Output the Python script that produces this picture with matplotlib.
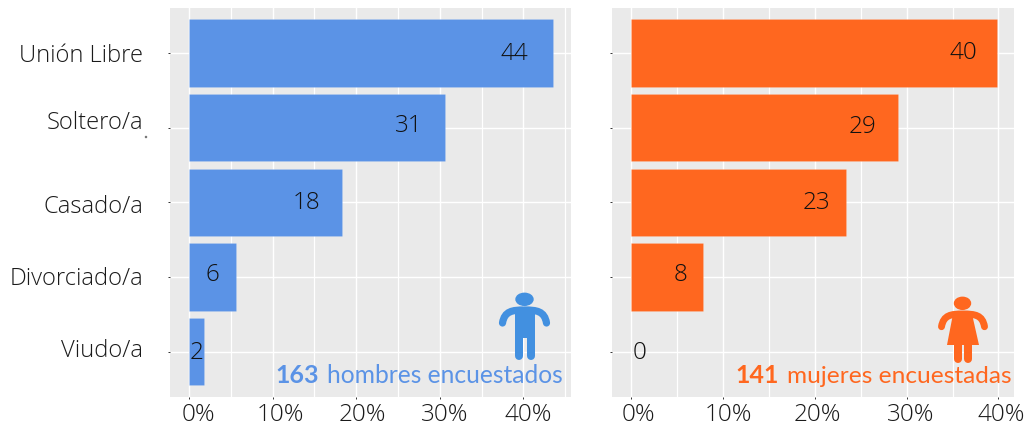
import matplotlib.pyplot as plt
from matplotlib.patches import Ellipse, Rectangle, Polygon, PathPatch
from matplotlib.path import Path
from matplotlib.transforms import Affine2D, ScaledTranslation

categories = ['Unión Libre', 'Soltero/a', 'Casado/a', 'Divorciado/a', 'Viudo/a']
men_pct = [43.5, 30.6, 18.3, 5.6, 1.8]
men_counts = [44, 31, 18, 6, 2]
women_pct = [39.8, 29.1, 23.4, 7.8, 0]
women_counts = [40, 29, 23, 8, 0]
tick_vals = [0, 10, 20, 30, 40]
tick_labels = ['0%', '10%', '20%', '30%', '40%']

W, H = 1027, 426
BLUE = '#5B93E6'
ORANGE = '#FF671F'
ICON_BLUE = '#4290E0'
PANEL = '#EAEAEA'
TEXT = '#1A1A1A'
FONT = 'Open Sans'
NOTE_FONT = 'Lato'
SIZE = 17.5

PIX = Affine2D().scale(1, -1).translate(0, H)


def to_axes_box(x0, x1, y0, y1):
    return [x0 / W, 1 - y1 / H, (x1 - x0) / W, (y1 - y0) / H]


def shift(fig, dx, dy):
    # dx, dy in pixels, y down
    return ScaledTranslation(dx / fig.dpi, -dy / fig.dpi, fig.dpi_scale_trans)


def draw_panel(fig, ax, pct, counts, color, xlim, minor, xlabel_dx, value_shifts):
    ax.set_facecolor(PANEL)
    for s in ax.spines.values():
        s.set_visible(False)
    ypos = list(range(len(pct)))
    ax.barh(ypos, pct, height=0.9, color=color, ec=(1, 1, 1, 0.15), lw=0.5, zorder=3)
    ax.set_xticks(tick_vals)
    ax.set_xticklabels(tick_labels, fontsize=SIZE, color=TEXT, family=FONT, fontweight='light')
    ax.set_xticks(minor, minor=True)
    ax.set_xlim(*xlim)
    ax.set_ylim(4.607, -0.603)
    ax.set_yticks(ypos)
    ax.set_yticklabels([])
    ax.tick_params(axis='x', which='major', length=1.5, width=0.7, color='#333333', pad=3)
    ax.tick_params(axis='x', which='minor', length=0)
    ax.tick_params(axis='y', length=1.5, width=0.7, color='#333333')
    ax.grid(True, which='major', color='white', lw=1.0, zorder=1)
    ax.grid(True, which='minor', axis='x', color='white', lw=0.9, zorder=1)
    ax.set_axisbelow(True)
    for lab, dx in zip(ax.get_xticklabels(), xlabel_dx):
        lab.set_transform(lab.get_transform() + shift(fig, dx, 0))
    for y, p, c, (dx, dy) in zip(ypos, pct, counts, value_shifts):
        ax.annotate(str(c), xy=(p, y), xytext=(dx * 0.72, -dy * 0.72), textcoords='offset points',
                    ha='center', va='center', fontsize=SIZE, color='#111111',
                    family=FONT, fontweight='light', zorder=4)


def arms(fig, cx, y_end, y_top, half, color, lw):
    pts = [(cx - half, y_end), (cx - half + 2, y_top + 1), (cx - 12, y_top), (cx, y_top),
           (cx + 12, y_top), (cx + half - 2, y_top + 1), (cx + half, y_end)]
    codes = [Path.MOVETO, Path.CURVE4, Path.CURVE4, Path.CURVE4, Path.CURVE4, Path.CURVE4, Path.CURVE4]
    fig.add_artist(PathPatch(Path(pts, codes), fill=False, ec=color, lw=lw, capstyle='round', transform=PIX))


def leg(fig, x, y0, y1, color, width):
    fig.add_artist(plt.Line2D([x, x], [y0, y1], color=color, lw=width * 0.72,
                              solid_capstyle='round', transform=PIX))


def man_icon(fig, color):
    cx = 524.5
    fig.add_artist(Ellipse((cx, 299.3), 17, 12, color=color, transform=PIX))
    arms(fig, cx, 323, 310, 22, color, 5.2)
    fig.add_artist(Rectangle((cx - 10, 308), 20, 30, fc=color, ec='none', transform=PIX))
    leg(fig, cx - 6, 336, 356, color, 8)
    leg(fig, cx + 6, 336, 356, color, 8)


def woman_icon(fig, color):
    cx = 963
    fig.add_artist(Ellipse((cx - 0.5, 303.3), 16, 12, color=color, transform=PIX))
    arms(fig, cx, 326.7, 314, 21.5, color, 5.0)
    fig.add_artist(Polygon([(cx - 10, 314), (cx + 9, 314), (cx + 16, 345), (cx - 16, 345)],
                           closed=True, fc=color, ec='none', transform=PIX))
    leg(fig, cx - 5, 343, 359, color, 8)
    leg(fig, cx + 5, 343, 359, color, 8)


fig = plt.figure(figsize=(W / 100, H / 100), dpi=100)

ax1 = fig.add_axes(to_axes_box(170, 571, 8, 397))
draw_panel(fig, ax1, men_pct, men_counts, BLUE, (-2.27, 45.7), [5, 15, 25, 35, 45],
           [9, 8, 6, 5, 5],
           [(-38, 1), (-36, -2), (-35, 1), (-23, -2), (-7, 1)])
ax2 = fig.add_axes(to_axes_box(612, 1014, 8, 397))
draw_panel(fig, ax2, women_pct, women_counts, ORANGE, (-2.1, 41.7), [5, 15, 25, 35],
           [7, 5, 3, 4, 3],
           [(-33, 0), (-36, -1), (-30, 1), (-22, -2), (8, 1)])

# category names sit unevenly against the ticks in the original
name_baselines = [8.7, 1.4, 10.4, 7.6, 5.0]
for y, name, dy in zip(range(len(categories)), categories, name_baselines):
    t = ax1.text(0, y, name, ha='right', va='baseline', fontsize=17.1, color=TEXT,
                 family=FONT, fontweight='light', clip_on=False,
                 transform=ax1.get_yaxis_transform() + shift(fig, -27, dy))

# stray speck left of the first panel
fig.add_artist(Ellipse((146, 137), 1.1, 1.1, color='#777777', transform=PIX))

fig.text(563 / W, 1 - 383 / H, 'hombres encuestados', ha='right', va='baseline', fontsize=17.7,
         color=BLUE, family=NOTE_FONT, zorder=5)
fig.text(318.5 / W, 1 - 383 / H, '163', ha='right', va='baseline', fontsize=18,
         color=BLUE, family=NOTE_FONT, fontweight='bold', zorder=5)
fig.text(1012 / W, 1 - 383 / H, 'mujeres encuestadas', ha='right', va='baseline', fontsize=17.6,
         color=ORANGE, family=NOTE_FONT, zorder=5)
fig.text(779 / W, 1 - 383 / H, '141', ha='right', va='baseline', fontsize=18,
         color=ORANGE, family=NOTE_FONT, fontweight='bold', zorder=5)

man_icon(fig, ICON_BLUE)
woman_icon(fig, ORANGE)

fig.savefig('out.png', dpi=100)
